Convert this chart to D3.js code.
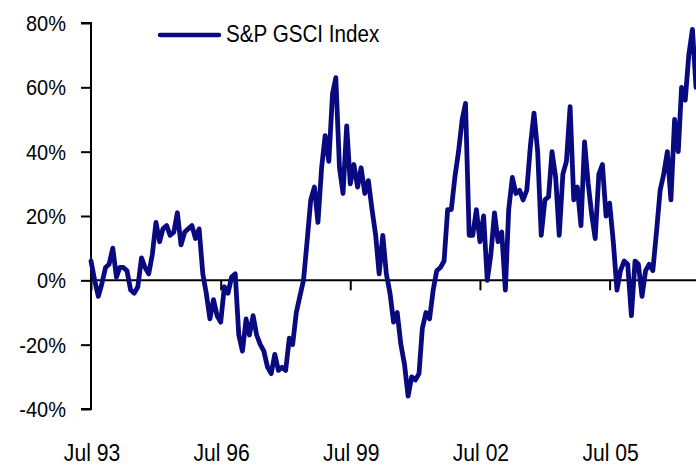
<!DOCTYPE html>
<html>
<head>
<meta charset="utf-8">
<script src="https://cdn.jsdelivr.net/npm/d3@7"></script>
<style>
  html, body { margin: 0; padding: 0; background: #fff; }
  svg { display: block; }
  text { font-family: "Liberation Sans", Arial, sans-serif; fill: #000; }
</style>
</head>
<body>
<svg id="chart" width="696" height="466"></svg>
<script>
// Series: S&P GSCI Index, year-on-year change (%), monthly from Jul 1993
const startMonth = new Date(1993, 6, 1);
const gsciValues = [
  6, 0, -5, -1, 4, 5, 10, 1, 4, 4, 3, -3,
  -4, -2, 7, 4, 2, 8, 18, 12, 16, 17, 14, 15,
  21, 11, 15, 16, 17, 13, 16, 2, -4, -12, -6, -11,
  -13, -2, -4, 1, 2, -17, -22, -12, -17, -11, -17, -20,
  -22, -27, -29, -23, -28, -27, -28, -18, -20, -10, -5, 0,
  12, 25, 29, 18, 35, 45, 37, 58, 63, 35, 27, 48,
  30, 36, 29, 35, 27, 31, 22, 14, 2, 14, 2, -4,
  -13, -10, -20, -26, -36, -30, -31, -29, -15, -10, -12, -3,
  3, 4, 6, 22, 22, 32, 40, 50, 55, 14, 14, 22,
  12, 20, 0, 8, 21, 12, 15, -3, 22, 32, 27, 28,
  25, 28, 42, 52, 40, 14, 25, 26, 40, 32, 14, 33,
  37, 54, 25, 29, 17, 43, 30, 20, 13, 33, 36, 20,
  24, 12, -3, 3, 6, 5, -11, 6, 5, -5, 3, 5,
  3, 15, 28, 33, 40, 25, 50, 40, 60, 56, 70, 78,
  60
];
const seriesName = "S&P GSCI Index";
const yTicks = [-40, -20, 0, 20, 40, 60, 80];
const xTickDates = ["1993-07", "1996-07", "1999-07", "2002-07", "2005-07"];
const xTickLabels = ["Jul 93", "Jul 96", "Jul 99", "Jul 02", "Jul 05"];

const data = gsciValues.map((v, i) => ({ date: d3.timeMonth.offset(startMonth, i), value: v }));
const parseMonth = d3.timeParse("%Y-%m");

const svg = d3.select("#chart");
const plotLeft = 91, plotRight = 696, plotTop = 23, plotBottom = 409;

const x = d3.scaleTime()
  .domain([startMonth, new Date(2007, 6, 1)])
  .range([plotLeft, plotRight]);
const y = d3.scaleLinear()
  .domain([-40, 80])
  .range([plotBottom, plotTop]);

const navy = "#0a0a80";

// Narrow lettering: glyphs compressed horizontally by `squeeze`
function label(g, px, py, str, anchor, size, squeeze) {
  return g.append("text")
    .attr("transform", `translate(${px},${py}) scale(${squeeze},1)`)
    .attr("text-anchor", anchor)
    .style("font-size", size + "px")
    .text(str);
}

// Y axis: vertical rule with left-pointing ticks
const yAxis = svg.append("g").attr("transform", `translate(${plotLeft},0)`)
  .call(d3.axisLeft(y).tickValues(yTicks).tickSize(10).tickFormat(() => ""));
yAxis.select(".domain").attr("d", `M-10,${y(-40)}H0V${y(80)}H-10`)
  .attr("stroke", "#000").attr("stroke-width", 2).attr("fill", "none");
yAxis.selectAll(".tick line").attr("stroke", "#000").attr("stroke-width", 2);

const yLabels = svg.append("g");
yTicks.forEach(v => label(yLabels, plotLeft - 25, y(v) + 8, v + "%", "end", 21.5, 0.93));

// Zero line with downward ticks
const xAxis = svg.append("g").attr("transform", `translate(0,${y(0)})`)
  .call(d3.axisBottom(x).tickValues(xTickDates.map(parseMonth)).tickSize(10)
    .tickFormat(() => ""));
xAxis.select(".domain").attr("d", `M${plotLeft},0H${plotRight}`)
  .attr("stroke", "#000").attr("stroke-width", 2);
xAxis.selectAll(".tick line").attr("stroke", "#000").attr("stroke-width", 2);

// Date labels along the bottom
const xLabels = svg.append("g");
xTickDates.forEach((d, i) => label(xLabels, x(parseMonth(d)) + 1, 461, xTickLabels[i], "middle", 24, 0.88));

// Index line
const line = d3.line()
  .x(d => x(d.date))
  .y(d => y(d.value))
  .curve(d3.curveLinear);
svg.append("path")
  .datum(data)
  .attr("d", line)
  .attr("fill", "none")
  .attr("stroke", navy)
  .attr("stroke-width", 4.8)
  .attr("stroke-linejoin", "round")
  .attr("stroke-linecap", "round");

// Legend
const legend = svg.append("g").attr("transform", "translate(160,35)");
legend.append("line")
  .attr("x1", 0).attr("x2", 59).attr("y1", 0).attr("y2", 0)
  .attr("stroke", navy).attr("stroke-width", 4.5).attr("stroke-linecap", "round");
label(legend, 66, 7, seriesName, "start", 24, 0.86);
</script>
</body>
</html>
